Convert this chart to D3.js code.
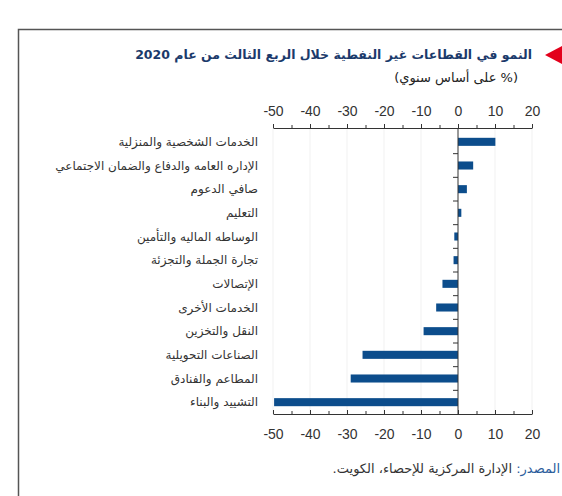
<!DOCTYPE html>
<html lang="ar">
<head>
<meta charset="utf-8">
<script src="https://cdn.jsdelivr.net/npm/d3@7"></script>
<style>
  body { margin: 0; background: #fff; }
  svg { display: block; font-family: "DejaVu Sans", "Noto Sans", sans-serif; }
</style>
</head>
<body>
<svg id="chart"></svg>
<script>
// categories, top to bottom
const sectors = [
  "الخدمات الشخصية والمنزلية",
  "الإداره العامه والدفاع والضمان الاجتماعي",
  "صافي الدعوم",
  "التعليم",
  "الوساطه الماليه والتأمين",
  "تجارة الجملة والتجزئة",
  "الإتصالات",
  "الخدمات الأخرى",
  "النقل والتخزين",
  "الصناعات التحويلية",
  "المطاعم والفنادق",
  "التشييد والبناء"
];
const growth = [10.1, 4.1, 2.4, 0.9, -1.0, -1.2, -4.2, -5.9, -9.3, -25.8, -29.0, -49.7];
const tickValues = [-50, -45, -40, -35, -30, -25, -20, -15, -10, -5, 0, 5, 10, 15, 20];

const width = 562, height = 496;
const svg = d3.select("#chart").attr("width", width).attr("height", height);

// frame
svg.append("path")
  .attr("d", "M18.5,496 V29.5 H562")
  .attr("fill", "none").attr("stroke", "#555").attr("stroke-width", 1.5);

// red marker
svg.append("path")
  .attr("d", "M545,55 L562,46 L562,64 Z")
  .attr("fill", "#e3001b");

// title (rtl: start = right edge)
svg.append("text")
  .attr("x", 532).attr("y", 59)
  .attr("text-anchor", "start").attr("direction", "rtl")
  .attr("font-size", 12.5).attr("font-weight", "bold").attr("fill", "#1b3a6b")
  .text("النمو في القطاعات غير النفطية خلال الربع الثالث من عام 2020");

svg.append("text")
  .attr("x", 518).attr("y", 82)
  .attr("text-anchor", "start").attr("direction", "rtl")
  .attr("font-size", 13).attr("fill", "#222")
  .text("(% على أساس سنوي)");

const x = d3.scaleLinear().domain([-50, 20]).range([273, 532]);
const y = d3.scaleBand().domain(sectors).range([130, 414]).paddingInner(0.66).paddingOuter(0.33);

// light grid
svg.append("g").selectAll("line")
  .data(tickValues.filter(d => d % 10 === 0 && d !== 0))
  .join("line")
  .attr("x1", d => x(d)).attr("x2", d => x(d))
  .attr("y1", 128).attr("y2", 414)
  .attr("stroke", "#f1f1f1");

// bars
svg.append("g").selectAll("rect")
  .data(growth)
  .join("rect")
  .attr("x", d => x(Math.min(0, d)))
  .attr("width", d => Math.abs(x(d) - x(0)))
  .attr("y", (d, i) => y(sectors[i]))
  .attr("height", y.bandwidth())
  .attr("fill", "#0c4d8c");

function styleAxis(g, size) {
  g.select(".domain").attr("stroke", "#333");
  g.selectAll(".tick line").attr("stroke", "#333")
    .attr("y2", d => (d % 10 === 0 ? -4 : -3));
  g.selectAll(".tick text")
    .attr("font-size", size).attr("fill", "#333")
    .attr("font-family", "Liberation Sans, Arial, sans-serif")
    .text(d => (d % 10 === 0 ? d : ""));
}

const axTop = svg.append("g").attr("transform", "translate(0,128)")
  .call(d3.axisTop(x).tickValues(tickValues).tickSizeOuter(0).tickPadding(6));
styleAxis(axTop, 14);

const axBottom = svg.append("g").attr("transform", "translate(0,414)")
  .call(d3.axisBottom(x).tickValues(tickValues).tickSizeOuter(0).tickSize(0).tickPadding(15));
styleAxis(axBottom, 14);

// zero line with category ticks
const step = y.step();
const zero = svg.append("g");
zero.append("line")
  .attr("x1", x(0)).attr("x2", x(0)).attr("y1", 128).attr("y2", 414)
  .attr("stroke", "#333");
zero.selectAll("line.ct")
  .data(sectors.slice(1))
  .join("line").attr("class", "ct")
  .attr("x1", x(0) - 5).attr("x2", x(0))
  .attr("y1", d => y(d) - (step - y.bandwidth()) / 2)
  .attr("y2", d => y(d) - (step - y.bandwidth()) / 2)
  .attr("stroke", "#333");

// category labels
svg.append("g").selectAll("text")
  .data(sectors)
  .join("text")
  .attr("x", 258)
  .attr("y", d => y(d) + y.bandwidth() / 2)
  .attr("dy", "0.35em")
  .attr("text-anchor", "start").attr("direction", "rtl")
  .attr("font-size", 12).attr("fill", "#333")
  .text(d => d);

// source
const src = svg.append("text")
  .attr("x", 560).attr("y", 473)
  .attr("text-anchor", "start").attr("direction", "rtl")
  .attr("font-size", 13).attr("fill", "#333");
src.append("tspan").attr("fill", "#2c5d9c").text("المصدر: ");
src.append("tspan").text("الإدارة المركزية للإحصاء، الكويت.");
</script>
</body>
</html>
